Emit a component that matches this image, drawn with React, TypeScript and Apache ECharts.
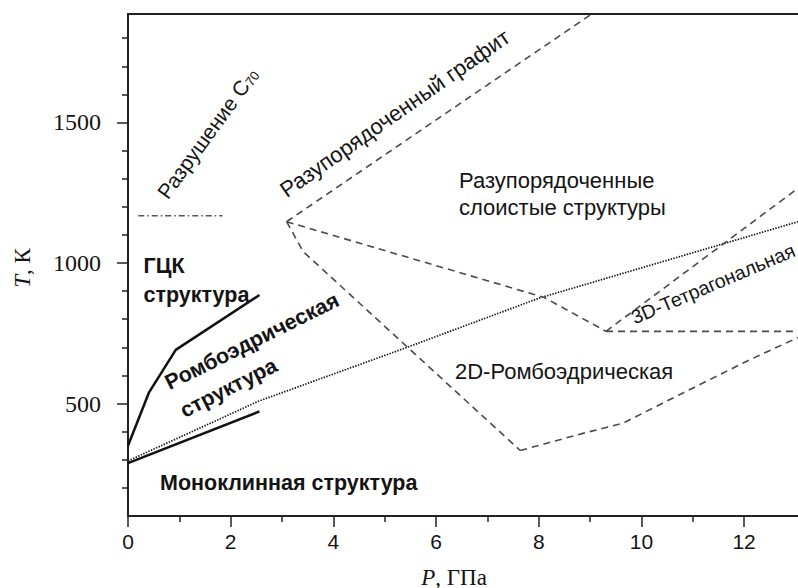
import React, { useEffect, useRef } from 'react';
import * as echarts from 'echarts';

// ---- ticks ----
const xMajorTicks = [0, 2, 4, 6, 8, 10, 12];
const xMinorTicks = [1, 3, 5, 7, 9, 11];
const yMajorTicks = [500, 1000, 1500];
const yMinorTicks = [200, 300, 400, 600, 700, 800, 900, 1100, 1200, 1300, 1400, 1600, 1700, 1800];

// ---- phase boundaries [P (GPa), T (K)] ----
const fccBoundary = [[0, 350], [0.41, 540], [0.93, 691], [2.56, 886]];
const monoBoundary = [[0, 288], [2.56, 472]];
const dottedBoundary = [[0, 296], [2.55, 509], [5.39, 697], [8.02, 876], [13.05, 1147]];
const destructionLine = [[0.2, 1168], [1.84, 1168]];
const graphiteBoundary = [[3.09, 1147], [9.03, 1886]];
const layeredBoundary = [[3.09, 1147], [8.1, 878], [9.31, 757]];
const rhombo2DLeft = [[3.09, 1147], [3.41, 1041], [7.64, 333]];
const rhombo2DBottom = [[7.64, 333], [8.86, 394], [9.64, 430], [10.8, 537], [12.1, 655], [13.05, 735]];
const tetraUpper = [[9.31, 757], [13.05, 1266]];
const tetraLower = [[9.31, 757], [13.05, 757]];

const X_MIN = 0;
const X_MAX = 13.05;
const Y_MIN = 100;
const Y_MAX = 1886;

const SANS = 'Liberation Sans, Arial, sans-serif';
const SERIF = 'Liberation Serif, Times New Roman, serif';
const TXT = '#141414';

const deg = (d: number) => (d * Math.PI) / 180;

function lineSeries(data: number[][], type: any, width: number, color: string) {
  return {
    type: 'line',
    data,
    xAxisIndex: 0,
    yAxisIndex: 0,
    showSymbol: false,
    symbol: 'none',
    silent: true,
    clip: true,
    lineStyle: { type, width, color },
  };
}

function label(text: string, x: number, y: number, rot: number, opts: any = {}) {
  return {
    type: 'text',
    x,
    y,
    rotation: deg(rot),
    silent: true,
    z: 100,
    style: {
      text,
      fill: TXT,
      fontFamily: SANS,
      fontSize: 22,
      align: 'left',
      verticalAlign: 'middle',
      ...opts,
    },
  };
}

export default function App() {
  const ref = useRef<HTMLDivElement>(null);
  useEffect(() => {
    const chart = echarts.init(ref.current!, null, { renderer: 'svg' });
    const dashed = [7, 5];
    const option: any = {
      animation: false,
      backgroundColor: '#ffffff',
      grid: { left: 128, right: 0, top: 14, bottom: 72, containLabel: false },
      xAxis: [
        {
          type: 'value',
          min: X_MIN,
          max: X_MAX,
          position: 'bottom',
          axisLine: { show: true, lineStyle: { color: '#222', width: 2 } },
          axisTick: { show: true, length: 11, customValues: xMajorTicks, lineStyle: { color: '#222', width: 1.5 } },
          axisLabel: {
            show: true,
            customValues: xMajorTicks,
            formatter: (v: number) => String(v),
            fontFamily: SANS,
            fontSize: 21,
            color: TXT,
            margin: 15,
          },
          splitLine: { show: false },
        },
        {
          type: 'value',
          min: X_MIN,
          max: X_MAX,
          position: 'bottom',
          axisLine: { show: false },
          axisTick: { show: true, length: 6, customValues: xMinorTicks, lineStyle: { color: '#222', width: 1.5 } },
          axisLabel: { show: false },
          splitLine: { show: false },
        },
        {
          type: 'value',
          min: X_MIN,
          max: X_MAX,
          position: 'top',
          axisLine: { show: true, lineStyle: { color: '#222', width: 2 } },
          axisTick: { show: false },
          axisLabel: { show: false },
          splitLine: { show: false },
        },
      ],
      yAxis: [
        {
          type: 'value',
          min: Y_MIN,
          max: Y_MAX,
          position: 'left',
          axisLine: { show: true, lineStyle: { color: '#222', width: 2 } },
          axisTick: { show: true, length: 11, customValues: yMajorTicks, lineStyle: { color: '#222', width: 1.5 } },
          axisLabel: {
            show: true,
            customValues: yMajorTicks,
            formatter: (v: number) => String(v),
            fontFamily: SERIF,
            fontSize: 24,
            color: TXT,
            margin: 27,
          },
          splitLine: { show: false },
        },
        {
          type: 'value',
          min: Y_MIN,
          max: Y_MAX,
          position: 'left',
          axisLine: { show: false },
          axisTick: { show: true, length: 6, customValues: yMinorTicks, lineStyle: { color: '#222', width: 1.5 } },
          axisLabel: { show: false },
          splitLine: { show: false },
        },
      ],
      series: [
        lineSeries(fccBoundary, 'solid', 2.5, '#111'),
        lineSeries(monoBoundary, 'solid', 2.5, '#111'),
        lineSeries(dottedBoundary, [1.4, 1.4], 1.7, '#111'),
        lineSeries(destructionLine, [6, 3, 1.5, 3], 1.5, '#555'),
        lineSeries(graphiteBoundary, dashed, 1.6, '#4a4a4a'),
        lineSeries(layeredBoundary, dashed, 1.6, '#4a4a4a'),
        lineSeries(rhombo2DLeft, dashed, 1.6, '#4a4a4a'),
        lineSeries(rhombo2DBottom, dashed, 1.6, '#4a4a4a'),
        lineSeries(tetraUpper, dashed, 1.6, '#4a4a4a'),
        lineSeries(tetraLower, dashed, 1.6, '#4a4a4a'),
      ],
      graphic: [
        label('Разрушение C{sub|70}', 162, 196, 54, {
          fontSize: 21,
          rich: { sub: { fontFamily: SANS, fontSize: 13, fill: TXT, verticalAlign: 'bottom' } },
        }),
        label('Разупорядоченный графит', 282.5, 192.2, 35),
        label('Разупорядоченные', 459, 180, 0),
        label('слоистые структуры', 459, 207, 0),
        label('3D-Тетрагональная', 632, 318, 23, { fontSize: 19.5 }),
        label('2D-Ромбоэдрическая', 455, 371, 0),
        label('ГЦК', 143.5, 266, 0, { fontWeight: 'bold', fontSize: 21.5 }),
        label('структура', 143.5, 295, 0, { fontWeight: 'bold', fontSize: 21.5 }),
        label('Ромбоэдрическая', 166.5, 384, 26.5, { fontWeight: 'bold', fontSize: 21.5 }),
        label('структура', 181.5, 412, 27, { fontWeight: 'bold', fontSize: 21.5 }),
        label('Моноклинная структура', 160, 483, 0, { fontWeight: 'bold', fontSize: 21.5 }),
        {
          type: 'text',
          x: 22.5,
          y: 268,
          rotation: deg(90),
          silent: true,
          style: {
            text: '{i|T}{r|, К}',
            align: 'center',
            verticalAlign: 'middle',
            fill: TXT,
            fontFamily: SERIF,
            fontSize: 23,
            rich: {
              i: { fontFamily: SERIF, fontSize: 23, fontStyle: 'italic', fill: TXT },
              r: { fontFamily: SERIF, fontSize: 23, fill: TXT },
            },
          },
        },
        {
          type: 'text',
          x: 454,
          y: 577,
          silent: true,
          style: {
            text: '{i|P}{r|, ГПа}',
            align: 'center',
            verticalAlign: 'middle',
            fill: TXT,
            fontFamily: SERIF,
            fontSize: 23,
            rich: {
              i: { fontFamily: SERIF, fontSize: 23, fontStyle: 'italic', fill: TXT },
              r: { fontFamily: SERIF, fontSize: 23, fill: TXT },
            },
          },
        },
      ],
    };
    chart.setOption(option);
    return () => chart.dispose();
  }, []);
  return (
    <div
      ref={ref}
      style={{ position: 'fixed', left: 0, top: 0, width: 798, height: 588, background: '#fff' }}
    />
  );
}
